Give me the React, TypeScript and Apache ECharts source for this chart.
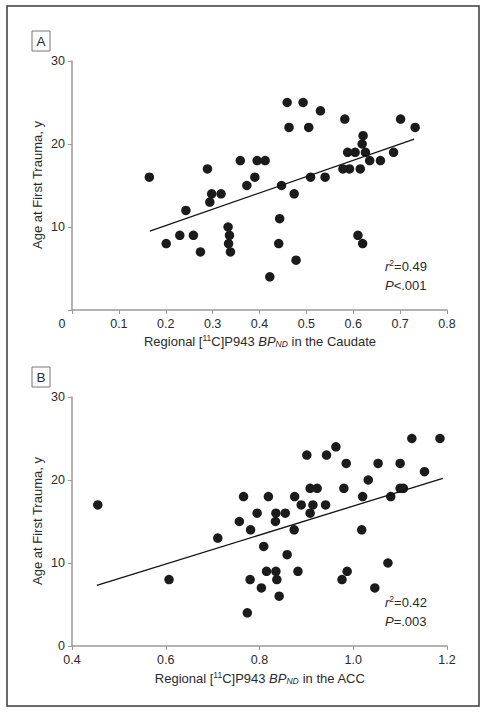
import React, { useEffect, useRef } from "react";
import * as echarts from "echarts";

// Panel A: Regional [11C]P943 BPND in the Caudate vs Age at First Trauma
const caudateX = [0.165, 0.201, 0.23, 0.243, 0.259, 0.274, 0.289, 0.294, 0.298, 0.318, 0.333, 0.336, 0.334, 0.338, 0.359, 0.373, 0.39, 0.395, 0.412, 0.422, 0.441, 0.443, 0.447, 0.459, 0.463, 0.474, 0.478, 0.493, 0.505, 0.509, 0.53, 0.54, 0.578, 0.582, 0.588, 0.592, 0.604, 0.61, 0.615, 0.619, 0.62, 0.621, 0.626, 0.635, 0.658, 0.686, 0.701, 0.732];
const caudateAge = [16, 8, 9, 12, 9, 7, 17, 13, 14, 14, 10, 9, 8, 7, 18, 15, 16, 18, 18, 4, 8, 11, 15, 25, 22, 14, 6, 25, 22, 16, 24, 16, 17, 23, 19, 17, 19, 9, 17, 20, 8, 21, 19, 18, 18, 19, 23, 22];
const caudateFitX = [0.166, 0.73];
const caudateFitY = [9.5, 20.6];

// Panel B: Regional [11C]P943 BPND in the ACC vs Age at First Trauma
const accX = [0.455, 0.607, 0.711, 0.757, 0.766, 0.774, 0.78, 0.781, 0.795, 0.804, 0.809, 0.815, 0.819, 0.834, 0.835, 0.835, 0.837, 0.842, 0.855, 0.859, 0.874, 0.875, 0.882, 0.889, 0.901, 0.908, 0.908, 0.914, 0.923, 0.941, 0.943, 0.963, 0.976, 0.98, 0.985, 0.987, 1.018, 1.02, 1.032, 1.046, 1.053, 1.074, 1.08, 1.1, 1.1, 1.107, 1.125, 1.152, 1.185];
const accAge = [17, 8, 13, 15, 18, 4, 8, 14, 16, 7, 12, 9, 18, 15, 16, 9, 8, 6, 16, 11, 14, 18, 9, 17, 23, 19, 16, 17, 19, 17, 23, 24, 8, 19, 22, 9, 14, 18, 20, 7, 22, 10, 18, 22, 19, 19, 25, 21, 25];
const accFitX = [0.453, 1.191];
const accFitY = [7.3, 20.2];

const yTicks = [0, 10, 20, 30];
const panelLabels = ["A", "B"];
const statsA = ["0.49", "<.001"];
const statsB = ["0.42", "=.003"];

const FONT = "'Liberation Sans Narrow', 'Arial Narrow', 'Liberation Sans', Arial, sans-serif";
const AXIS_COLOR = "#9a9a9a";
const TEXT_COLOR = "#2a2a2a";
const DOT = "#1b1b1b";

export default function App() {
  const ref = useRef<HTMLDivElement>(null);
  useEffect(() => {
    document.body.style.margin = "0";
    if (!ref.current) return;
    const chart = echarts.init(ref.current, null, { renderer: "svg" });

    const zip = (xs: number[], ys: number[]) => xs.map((x, i) => [x, ys[i]]);

    const axisCommon = {
      axisLine: { show: true, onZero: false, lineStyle: { color: AXIS_COLOR, width: 1.5 } },
      axisTick: { show: true, length: 4, lineStyle: { color: AXIS_COLOR, width: 1 } },
      splitLine: { show: false },
    };
    const labelStyle = { color: TEXT_COLOR, fontSize: 12.5, fontFamily: FONT };

    const sup = { fontSize: 8.5, verticalAlign: "top", fill: TEXT_COLOR, fontFamily: FONT, lineHeight: 15 } as any;
    const sub = { fontSize: 8.5, fontStyle: "italic", verticalAlign: "bottom", fill: TEXT_COLOR, fontFamily: FONT, lineHeight: 15 } as any;
    const it = { fontSize: 13, fontStyle: "italic", fill: TEXT_COLOR, fontFamily: FONT, lineHeight: 15 } as any;

    const titleText = (x: number, y: number, region: string) => ({
      type: "text",
      x,
      y,
      style: {
        text: `Regional [{sup|11}C]P943 {it|BP}{sub|ND} in the ${region}`,
        fill: TEXT_COLOR,
        fontSize: 13,
        fontFamily: FONT,
        lineHeight: 15,
        align: "center",
        verticalAlign: "middle",
        rich: { sup, sub, it },
      },
    });
    const yTitle = (x: number, y: number) => ({
      type: "text",
      x,
      y,
      rotation: Math.PI / 2,
      style: {
        text: "Age at First Trauma, y",
        fill: TEXT_COLOR,
        fontSize: 13,
        fontFamily: FONT,
        align: "center",
        verticalAlign: "middle",
      },
    });
    const panelBox = (x: number, y: number, label: string) => ({
      type: "group",
      children: [
        { type: "rect", shape: { x, y, width: 18, height: 20 }, style: { fill: "#fff", stroke: "#777", lineWidth: 1 } },
        { type: "text", x: x + 9, y: y + 10.5, style: { text: label, fill: TEXT_COLOR, fontSize: 13.5, fontFamily: FONT, align: "center", verticalAlign: "middle" } },
      ],
    });
    const stat = (x: number, y: number, r2: string, p: string) => ({
      type: "group",
      children: [
        { type: "text", x, y, style: { text: `{it|r}{sup|2}{n|=${r2}}`, fill: TEXT_COLOR, fontSize: 13, fontFamily: FONT, lineHeight: 16, verticalAlign: "middle", rich: { it: { ...it, fontSize: 13 }, sup: { ...sup, fontStyle: "normal" }, n: { fontSize: 13, fill: TEXT_COLOR, fontFamily: FONT, lineHeight: 16 } } } },
        { type: "text", x, y: y + 19, style: { text: `{it|P}{n|${p}}`, fill: TEXT_COLOR, fontSize: 13, fontFamily: FONT, lineHeight: 16, verticalAlign: "middle", rich: { it: { ...it, fontSize: 13 }, n: { fontSize: 13, fill: TEXT_COLOR, fontFamily: FONT, lineHeight: 16 } } } },
      ],
    });

    const option: any = {
      animation: false,
      backgroundColor: "#fff",
      grid: [
        { left: 72, top: 61, width: 375, height: 249 },
        { left: 72, top: 397, width: 375, height: 249 },
      ],
      xAxis: [
        {
          type: "value",
          gridIndex: 0,
          min: 0,
          max: 0.8,
          interval: 0.1,
          ...axisCommon,
          axisLabel: {
            ...labelStyle,
            margin: 7,
            formatter: (v: number) => (Math.abs(v) < 1e-9 ? "{z|0}" : v.toFixed(1)),
            rich: { z: { ...labelStyle, padding: [0, 20, 0, 0] } },
          },
        },
        {
          type: "value",
          gridIndex: 1,
          min: 0.4,
          max: 1.2,
          interval: 0.2,
          ...axisCommon,
          axisLabel: { ...labelStyle, margin: 7, formatter: (v: number) => v.toFixed(1) },
        },
      ],
      yAxis: [
        {
          type: "value",
          gridIndex: 0,
          min: yTicks[0],
          max: yTicks[yTicks.length - 1],
          interval: 10,
          ...axisCommon,
          axisLabel: { ...labelStyle, margin: 7, formatter: (v: number) => (v === 0 ? "" : String(v)) },
        },
        {
          type: "value",
          gridIndex: 1,
          min: yTicks[0],
          max: yTicks[yTicks.length - 1],
          interval: 10,
          ...axisCommon,
          axisLabel: { ...labelStyle, margin: 7 },
        },
      ],
      series: [
        {
          type: "line",
          xAxisIndex: 0,
          yAxisIndex: 0,
          data: zip(caudateFitX, caudateFitY),
          symbol: "none",
          lineStyle: { color: "#111", width: 1.3 },
          silent: true,
        },
        {
          type: "scatter",
          xAxisIndex: 0,
          yAxisIndex: 0,
          data: zip(caudateX, caudateAge),
          symbolSize: 9.5,
          itemStyle: { color: DOT, opacity: 1 },
        },
        {
          type: "line",
          xAxisIndex: 1,
          yAxisIndex: 1,
          data: zip(accFitX, accFitY),
          symbol: "none",
          lineStyle: { color: "#111", width: 1.3 },
          silent: true,
        },
        {
          type: "scatter",
          xAxisIndex: 1,
          yAxisIndex: 1,
          data: zip(accX, accAge),
          symbolSize: 9.5,
          itemStyle: { color: DOT, opacity: 1 },
        },
      ],
      graphic: [
        { type: "rect", shape: { x: 7, y: 6, width: 472, height: 700 }, style: { fill: "none", stroke: "#3a3a3a", lineWidth: 1.5 }, silent: true },
        panelBox(32, 31, panelLabels[0]),
        panelBox(32, 367, panelLabels[1]),
        yTitle(37, 185),
        yTitle(37, 521),
        titleText(260, 341, "Caudate"),
        titleText(260, 678, "ACC"),
        stat(385, 266, statsA[0], statsA[1]),
        stat(385, 602, statsB[0], statsB[1]),
      ],
    };

    chart.setOption(option);
    return () => chart.dispose();
  }, []);

  return <div ref={ref} style={{ width: 486, height: 713 }} />;
}
